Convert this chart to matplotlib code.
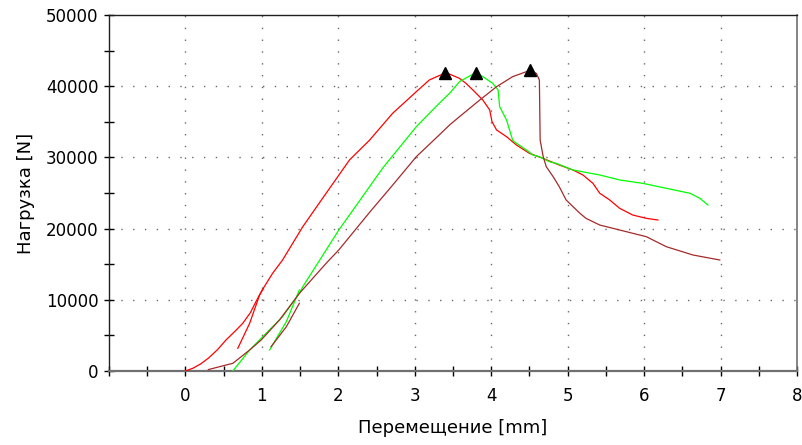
import matplotlib
matplotlib.use("Agg")
import matplotlib.pyplot as plt
from matplotlib.ticker import MultipleLocator, FixedLocator

# ---- data ----
red_x = [0.0, 0.1, 0.2, 0.3, 0.42, 0.53, 0.65, 0.75, 0.85, 0.925, 1.0, 1.14, 1.27, 1.535, 1.84, 2.146, 2.41,
         2.71, 3.02, 3.19, 3.3, 3.39, 3.455, 3.585, 3.67, 3.76, 3.89, 3.98, 4.01, 4.07, 4.20, 4.33, 4.50,
         4.675, 4.89, 5.07, 5.2, 5.33, 5.42, 5.55, 5.68, 5.85, 6.03, 6.18]
red_y = [0, 400, 1000, 1800, 3000, 4350, 5600, 6700, 8200, 9800, 11300, 13720, 15580, 20270, 24960, 29640, 32440,
         36190, 39230, 40870, 41400, 41800, 41700, 41100, 40400, 39470, 38060, 36660, 35020, 33850, 32910, 31740, 30570,
         29870, 28930, 28230, 27530, 26360, 24960, 24020, 22850, 21910, 21440, 21210]
red2_x = [0.685, 0.84, 0.97, 1.02]
red2_y = [3190, 6700, 10670, 11600]

green_x = [0.62, 0.84, 0.99, 1.27, 1.49, 1.535, 1.84, 2.006, 2.277, 2.58, 3.02, 3.32, 3.455, 3.585,
           3.74, 3.80, 3.89, 4.02, 4.09, 4.11, 4.20, 4.28, 4.30, 4.46, 4.545, 4.63, 4.76, 4.85, 5.07,
           5.42, 5.68, 5.98, 6.29, 6.60, 6.73, 6.835]
green_y = [0, 2950, 4590, 7630, 10900, 11840, 16990, 19800, 23900, 28500, 34310, 37600, 39000, 40640,
           41570, 41900, 41340, 40400, 39470, 37130, 35250, 32440, 32200, 31040, 30340, 30100, 29400, 29170, 28230,
           27530, 26830, 26360, 25660, 24960, 24250, 23310]
green2_x = [1.10, 1.32, 1.49]
green2_y = [2950, 6930, 11380]

brown_x = [0.30, 0.62, 0.84, 0.99, 1.23, 1.49, 1.84, 2.006, 2.41, 2.71, 3.02, 3.32, 3.455, 3.585, 3.85,
           4.07, 4.28, 4.46, 4.51, 4.59, 4.63, 4.64, 4.68, 4.72, 4.81, 4.89, 4.98, 5.07, 5.16, 5.24, 5.42,
           5.77, 6.03, 6.29, 6.64, 6.99]
brown_y = [200, 1080, 2950, 4350, 7160, 10900, 15120, 17000, 22300, 26100, 30100, 33150, 34550, 35720, 38060,
           39930, 41340, 42040, 42200, 41800, 40870, 32440, 30100, 28700, 27290, 25890, 24020, 23080, 22150, 21440, 20500,
           19560, 18860, 17460, 16290, 15590]
brown2_x = [1.12, 1.32, 1.49]
brown2_y = [3410, 6220, 9510]

peak_x = [3.39, 3.80, 4.51]
peak_y = [41800, 41900, 42300]

x_ticks = [0, 1, 2, 3, 4, 5, 6, 7, 8]
y_ticks = [0, 10000, 20000, 30000, 40000, 50000]

RED = "#ff0000"
GREEN = "#00ff00"
BROWN = "#a52a2a"

fig = plt.figure(figsize=(8.03, 4.45), dpi=100)
ax = fig.add_axes([109 / 803, 1 - 371 / 445, (797 - 109) / 803, (371 - 15) / 445])

lw = 0.9
ax.plot(red_x, red_y, color=RED, lw=lw, zorder=3)
ax.plot(red2_x, red2_y, color=RED, lw=lw, zorder=3)
ax.plot(green_x, green_y, color=GREEN, lw=lw, zorder=3)
ax.plot(green2_x, green2_y, color=GREEN, lw=lw, zorder=3)
ax.plot(brown_x, brown_y, color=BROWN, lw=lw, zorder=3)
ax.plot(brown2_x, brown2_y, color=BROWN, lw=lw, zorder=3)
ax.plot(peak_x, peak_y, linestyle="none", marker="^", color="black", markersize=9, zorder=4)

ax.set_xlim(-1, 8)
ax.set_ylim(0, 50000)

ax.xaxis.set_major_locator(FixedLocator(x_ticks))
ax.xaxis.set_minor_locator(MultipleLocator(0.5))
ax.yaxis.set_major_locator(FixedLocator(y_ticks))
ax.yaxis.set_minor_locator(MultipleLocator(5000))
ax.set_xticklabels([str(v) for v in x_ticks])
ax.set_yticklabels([str(v) for v in y_ticks])

ax.tick_params(axis="both", which="both", direction="inout", length=7, width=1, color="black",
               labelsize=12, labelcolor="black")
ax.tick_params(axis="x", which="both", pad=8)
ax.tick_params(axis="y", which="both", pad=4)

# dotted grid at major ticks
for xv in x_ticks[:-1]:
    ax.axvline(xv, color="#6a6a6a", lw=1.0, linestyle=(0, (1, 7.5)), zorder=1)
for yv in y_ticks[1:-1]:
    ax.axhline(yv, color="#6a6a6a", lw=1.0, linestyle=(0, (1, 7.5)), zorder=1)

ax.spines["left"].set_color("#202020")
ax.spines["top"].set_color("#202020")
ax.spines["bottom"].set_color("#707070")
ax.spines["right"].set_color("#707070")
ax.spines["bottom"].set_linewidth(1.6)
ax.spines["right"].set_linewidth(1.2)
ax.spines["left"].set_linewidth(1.0)
ax.spines["top"].set_linewidth(1.0)

ax.set_xlabel("Перемещение [mm]", fontsize=13, labelpad=10)
ax.set_ylabel("Нагрузка [N]", fontsize=13, labelpad=8)

fig.savefig("out.png", dpi=100)
